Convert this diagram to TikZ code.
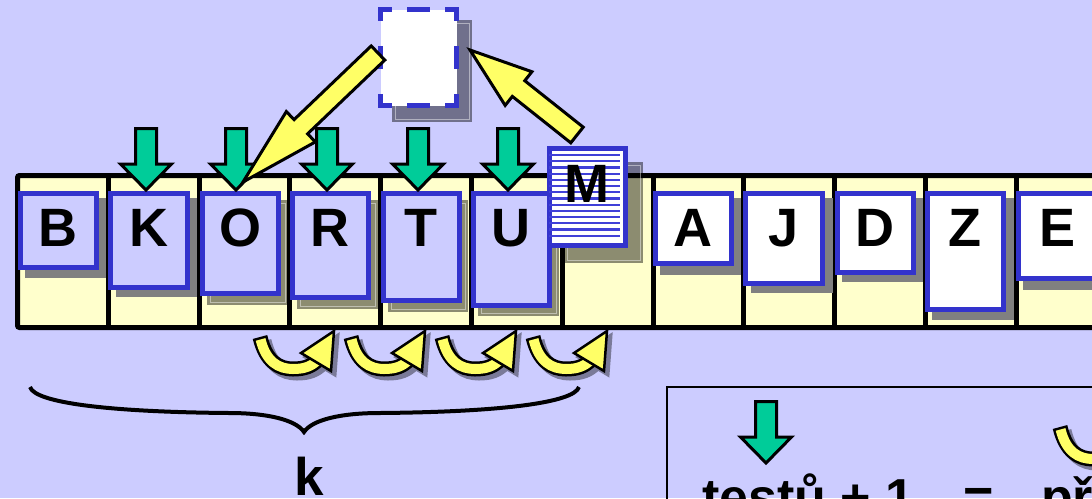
\documentclass[tikz,border=0pt]{standalone}
\usepackage{fontspec}
\setmainfont{Liberation Sans}
\usetikzlibrary{calc}

\definecolor{bg}{HTML}{CCCCFF}
\definecolor{tray}{HTML}{FFFFCC}
\definecolor{cardblue}{HTML}{3333CC}
\definecolor{mint}{HTML}{00CC99}
\definecolor{lemon}{HTML}{FFFF66}
\definecolor{shade}{HTML}{808080}
\definecolor{curlshade}{HTML}{7A7A99}
\definecolor{stripe}{HTML}{4040D8}

\tikzset{
  card/.style={draw=cardblue, line width=5pt, inner sep=0pt, anchor=north west},
  letter/.style={font=\fontsize{54}{60}\selectfont\bfseries, inner sep=0pt, anchor=base},
  bigtext/.style={font=\fontsize{52}{60}\selectfont\bfseries, inner sep=0pt, anchor=base},
  solidshadow/.style={fill=shade},
  ghost/.style={fill=black, fill opacity=0.45},
  ghostrim/.style={draw=white, draw opacity=0.45, line width=0.8pt},
  greenarrow/.style={fill=mint, draw=black, line width=3pt, line join=miter},
  yellowarrow/.style={fill=lemon, draw=black, line width=3pt, line join=miter},
  pics/dnarrow/.style={code={
    \filldraw[greenarrow] (-10.5,-61.5) -- (10.5,-61.5) -- (10.5,-26) -- (25.5,-26)
      -- (0,0) -- (-25.5,-26) -- (-10.5,-26) -- cycle;}},
  pics/curly/.style={code={
    % drop shadow
    \begin{scope}[shift={(4,4)}]
      \draw[curlshade, line width=15pt] (7,7) .. controls (13,32) and (26,39) .. (40,39)
        .. controls (52,39) and (58,36) .. (64,31);
      \filldraw[fill=curlshade, draw=curlshade, line width=3pt, line join=miter]
        (81,1) -- (48,23) -- (78,41) -- cycle;
    \end{scope}
    % curved band
    \draw[black, line width=15pt] (7,7) .. controls (13,32) and (26,39) .. (40,39)
      .. controls (52,39) and (58,36) .. (64,31);
    \draw[lemon, line width=10pt, shorten <=2.5pt] (7,7) .. controls (13,32) and (26,39) .. (40,39)
      .. controls (52,39) and (58,36) .. (64,31);
    % head
    \filldraw[fill=lemon, draw=black, line width=2.5pt, line join=miter]
      (81,1) -- (48,23) -- (78,41) -- cycle;}},
}

% card: name, x1, y1, x2, y2 (outer edges), fill colour
\newcommand\cardbox[6]{%
  \node[card, fill=#6, minimum width={#4-#2-5}, minimum height={#5-#3-5}]
    (#1) at (#2+2.5,#3+2.5) {};}
% semi-transparent drop shadow with a faint rim
\newcommand\ghostbox[4]{%
  \fill[ghost] (#1,#2) rectangle (#3,#4);
  \draw[ghostrim] (#1+3,#2+3) rectangle (#3-3,#4-3);}
% straight block arrow: tail, tip, neck name, shaft half width, head half width, head length
\newcommand\blockarrow[6]{%
  \coordinate (#3) at ($(#2)!#6!(#1)$);
  \filldraw[yellowarrow] ($(#1)!#4!90:(#2)$) -- ($(#3)!#4!90:(#2)$) -- ($(#3)!#5!90:(#2)$)
    -- (#2) -- ($(#3)!#5!-90:(#2)$) -- ($(#3)!#4!-90:(#2)$) -- ($(#1)!#4!-90:(#2)$) -- cycle;}

\begin{document}
\begin{tikzpicture}[x=1pt, y=-1pt]
\useasboundingbox (0,0) rectangle (1092,498);
\clip (0,0) rectangle (1092,498);
\fill[bg] (0,0) rectangle (1092,498);

% tray with its slots
\fill[tray] (17.5,175.5) rectangle (1110,327.5);
\foreach \i in {1,...,11}
  \draw[line width=5pt] (17.5+90.8*\i,175.5) -- (17.5+90.8*\i,327.5);
\draw[line width=5pt, rounded corners=2pt] (17.5,175.5) rectangle (1110,327.5);

% shadows
\fill[solidshadow] (25,198) rectangle (106,278);
\fill[solidshadow] (116,198) rectangle (197,297);
\ghostbox{207}{200}{288}{305}
\ghostbox{297}{200}{378}{309}
\ghostbox{388}{200}{468}{312}
\ghostbox{478}{200}{559}{316}
\ghostbox{564}{162}{643}{263}
\fill[solidshadow] (660,198) rectangle (741,275);
\fill[solidshadow] (751,198) rectangle (833,293);
\fill[solidshadow] (842,198) rectangle (923,282);
\fill[solidshadow] (932,198) rectangle (1014,320);
\fill[solidshadow] (1023,198) rectangle (1106,290);

% cards
\cardbox{B}{15}{188}{96}{267}{bg}
\cardbox{K}{105}{188}{187}{287}{bg}
\cardbox{O}{197}{188}{278}{293}{bg}
\cardbox{R}{287}{188}{368}{297}{bg}
\cardbox{T}{378}{188}{459}{300}{bg}
\cardbox{U}{468}{188}{549}{305}{bg}
\cardbox{A}{650}{188}{731}{263}{white}
\cardbox{J}{740}{188}{822}{283}{white}
\cardbox{D}{832}{188}{913}{272}{white}
\cardbox{Z}{922}{188}{1003}{309}{white}
\cardbox{E}{1013}{188}{1096}{278}{white}

\foreach \c in {B,K,O,R,T,U,A,J,D,Z,E}
  \node[letter] (l\c) at ([yshift=-55.5pt]\c.north) {\c};

% comparisons
\pic (g1) at (146,190) {dnarrow};
\pic (g2) at (236,190) {dnarrow};
\pic (g3) at (327,190) {dnarrow};
\pic (g4) at (418,190) {dnarrow};
\pic (g5) at (508,190) {dnarrow};

% temporary holding place
\ghostbox{392}{20}{472}{122}
\node[fill=white, inner sep=0pt, minimum width=76, minimum height=96, anchor=north west]
  (hold) at (380.5,9.5) {};
\begin{scope}[cardblue, line width=5pt]
  \draw[dash pattern=on 14pt off 15pt on 23pt off 15pt on 14pt off 60pt]
    (hold.north west -| 378,0) -- (hold.north east -| 459,0);
  \draw[dash pattern=on 14pt off 15pt on 23pt off 15pt on 14pt off 60pt]
    (hold.south west -| 378,0) -- (hold.south east -| 459,0);
  \draw[dash pattern=on 14pt off 25pt on 23pt off 25pt on 14pt off 60pt]
    (hold.west |- 0,7) -- (hold.west |- 0,108);
  \draw[dash pattern=on 14pt off 25pt on 23pt off 25pt on 14pt off 60pt]
    (hold.east |- 0,7) -- (hold.east |- 0,108);
\end{scope}

% moves through the holding place
\coordinate (t1) at (378,53);
\coordinate (h1) at (243,182);
\blockarrow{t1}{h1}{n1}{9.8pt}{21pt}{80pt}
\coordinate (t2) at (577,135);
\coordinate (h2) at (470,50);
\blockarrow{t2}{h2}{n2}{10pt}{21.5pt}{62pt}

% the card being inserted
\cardbox{M}{544}{143}{625}{245}{white}
\foreach \k in {0,...,13}
  \draw[stripe, line width=2.2pt] (549,155+6.2*\k) -- (620,155+6.2*\k);
\node[letter] (lM) at ([yshift=-57pt]M.north) {M};

% shifts
\pic (c1) at (253,330) {curly};
\pic (c2) at (344,330) {curly};
\pic (c3) at (435,330) {curly};
\pic (c4) at (526,330) {curly};

% brace and its label
\draw[line width=4pt] (30,387) .. controls (35,403) and (110,412) .. (229,413)
  .. controls (268,413) and (296,420) .. (304,432)
  .. controls (312,420) and (340,413) .. (380,413)
  .. controls (498,412) and (574,403) .. (579,387);
\node[bigtext, font=\fontsize{53}{60}\selectfont\bfseries] (k) at (309,495) {k};

% legend
\draw[line width=1.5pt] (667,387) rectangle (1120,540);
\pic (gl) at (766,463) {dnarrow};
\pic (cl) at (1053,420) {curly};
\node[bigtext, anchor=base west] (tests) at (702,515) {testů + 1};
\node[bigtext] (eq) at (979,515) {=};
\node[bigtext, anchor=base west] (moves) at (1041,515) {př};
\end{tikzpicture}
\end{document}
